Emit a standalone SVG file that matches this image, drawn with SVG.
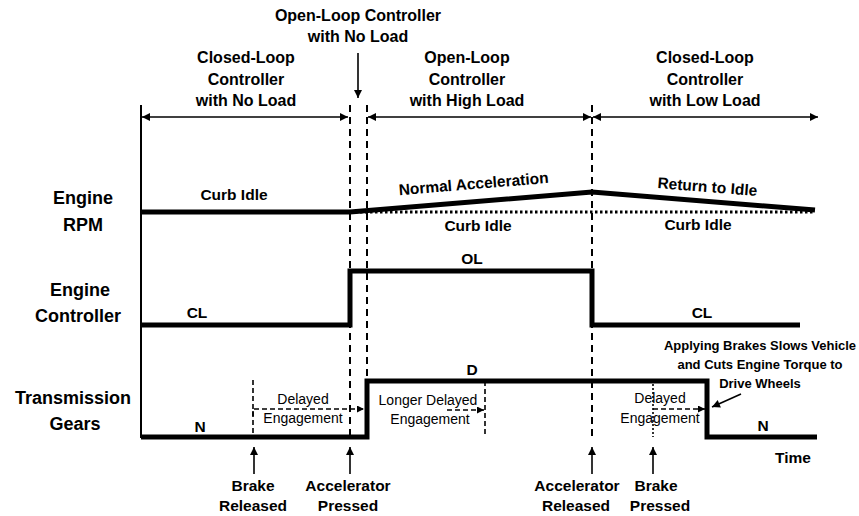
<svg xmlns="http://www.w3.org/2000/svg" width="859" height="516" viewBox="0 0 859 516">
<defs>
<marker id="ah" viewBox="0 0 10 10" refX="10" refY="5" markerWidth="10" markerHeight="8" markerUnits="userSpaceOnUse" orient="auto-start-reverse">
<path d="M0,0 L10,5 L0,10 Z" fill="#000"/>
</marker>
<marker id="ahs" viewBox="0 0 10 10" refX="10" refY="5" markerWidth="8" markerHeight="7" markerUnits="userSpaceOnUse" orient="auto">
<path d="M0,0 L10,5 L0,10 Z" fill="#000"/>
</marker>
<style>
text{font-family:"Liberation Sans",Arial,sans-serif;font-weight:bold;fill:#000;text-anchor:middle}
.t{font-size:16px}
.big{font-size:18px}
.s{font-size:15.5px}
.r{font-size:14px;font-weight:normal}
.note{font-size:13px}
.thick{fill:none;stroke:#000;stroke-width:5;stroke-linejoin:miter}
.axis{fill:none;stroke:#000;stroke-width:2}
.dash{fill:none;stroke:#000;stroke-width:2;stroke-dasharray:7,5}
.sdash{fill:none;stroke:#000;stroke-width:1.6;stroke-dasharray:5,3}
.dot{fill:none;stroke:#000;stroke-width:3;stroke-dasharray:2.5,2.5}
.fdot{fill:none;stroke:#000;stroke-width:1.6;stroke-dasharray:2,2}
.arr{fill:none;stroke:#000;stroke-width:1.6}
</style>
</defs>

<g id="labels-left">
<text class="big" x="83" y="204">Engine</text>
<text class="big" x="83" y="231">RPM</text>
<text class="big" x="80" y="296">Engine</text>
<text class="big" x="78" y="322">Controller</text>
<text class="big" x="73" y="404">Transmission</text>
<text class="big" x="75" y="430">Gears</text>
</g>

<g id="phase-titles">
<text class="t" x="358" y="21">Open-Loop Controller</text>
<text class="t" x="358" y="42">with No Load</text>
<text class="t" x="246" y="63">Closed-Loop</text>
<text class="t" x="246" y="85">Controller</text>
<text class="t" x="246" y="106">with No Load</text>
<text class="t" x="467" y="63">Open-Loop</text>
<text class="t" x="467" y="85">Controller</text>
<text class="t" x="467" y="106">with High Load</text>
<text class="t" x="705" y="63">Closed-Loop</text>
<text class="t" x="705" y="85">Controller</text>
<text class="t" x="705" y="106">with Low Load</text>
</g>

<g id="connectors">
<line class="axis" x1="141" y1="105" x2="141" y2="438"/>
<line class="arr" x1="142" y1="117" x2="348" y2="117" marker-start="url(#ah)" marker-end="url(#ah)"/>
<line class="arr" x1="368" y1="117" x2="591" y2="117" marker-start="url(#ah)" marker-end="url(#ah)"/>
<line class="arr" x1="593" y1="117" x2="818" y2="117" marker-start="url(#ah)" marker-end="url(#ah)"/>
<line class="arr" x1="358" y1="53" x2="358" y2="98" marker-end="url(#ah)"/>
<line class="dash" x1="350" y1="105" x2="350" y2="437"/>
<line class="dash" x1="367" y1="105" x2="367" y2="437"/>
<line class="dash" x1="592" y1="105" x2="592" y2="440"/>
<line class="arr" x1="254" y1="474" x2="254" y2="447" marker-end="url(#ah)"/>
<line class="arr" x1="350" y1="474" x2="350" y2="447" marker-end="url(#ah)"/>
<line class="arr" x1="592" y1="474" x2="592" y2="447" marker-end="url(#ah)"/>
<line class="arr" x1="653" y1="474" x2="653" y2="447" marker-end="url(#ah)"/>
<line class="arr" x1="741" y1="394" x2="712" y2="407" marker-end="url(#ah)"/>
</g>

<g id="engine-rpm">
<path class="dot" d="M350,212 H815"/>
<path class="thick" d="M141,212 H350 L592,192 L815,210"/>
<text class="s" x="234" y="200">Curb Idle</text>
<text class="s" x="474" y="189" transform="rotate(-4.7 474 189)">Normal Acceleration</text>
<text class="s" x="707" y="192" transform="rotate(4.5 707 192)">Return to Idle</text>
<text class="s" x="478" y="231">Curb Idle</text>
<text class="s" x="698" y="230">Curb Idle</text>
</g>

<g id="engine-controller">
<path class="thick" d="M141,325 H350 V271 H592 V325 H800"/>
<text class="s" x="197" y="318">CL</text>
<text class="s" x="472" y="264">OL</text>
<text class="s" x="702" y="318">CL</text>
</g>

<g id="transmission-gears">
<path class="thick" d="M141,437 H367 V381 H707 V437 H817"/>
<text class="s" x="200" y="432">N</text>
<text class="s" x="472" y="375">D</text>
<text class="s" x="763" y="431">N</text>
<path class="sdash" d="M253,380 V437"/>
<path class="sdash" d="M253,416 V409 H364" marker-end="url(#ahs)"/>
<text class="r" x="303" y="404">Delayed</text>
<text class="r" x="303" y="423">Engagement</text>
<path class="sdash" d="M485,381 V437"/>
<path class="sdash" d="M447,410 H484" marker-end="url(#ahs)"/>
<text class="r" x="428" y="405">Longer Delayed</text>
<text class="r" x="430" y="424">Engagement</text>
<path class="fdot" d="M653,384 V437"/>
<path class="sdash" d="M653,409 H705" marker-end="url(#ahs)"/>
<text class="r" x="660" y="403">Delayed</text>
<text class="r" x="660" y="423">Engagement</text>
</g>

<g id="annotations">
<text class="note" x="760" y="350">Applying Brakes Slows Vehicle</text>
<text class="note" x="760" y="369">and Cuts Engine Torque to</text>
<text class="note" x="760" y="388">Drive Wheels</text>
<text class="s" x="793" y="463">Time</text>
<text class="s" x="253" y="491">Brake</text>
<text class="s" x="253" y="511">Released</text>
<text class="s" x="348" y="491">Accelerator</text>
<text class="s" x="348" y="511">Pressed</text>
<text class="s" x="577" y="491">Accelerator</text>
<text class="s" x="576" y="511">Released</text>
<text class="s" x="656" y="491">Brake</text>
<text class="s" x="660" y="511">Pressed</text>
</g>
</svg>
